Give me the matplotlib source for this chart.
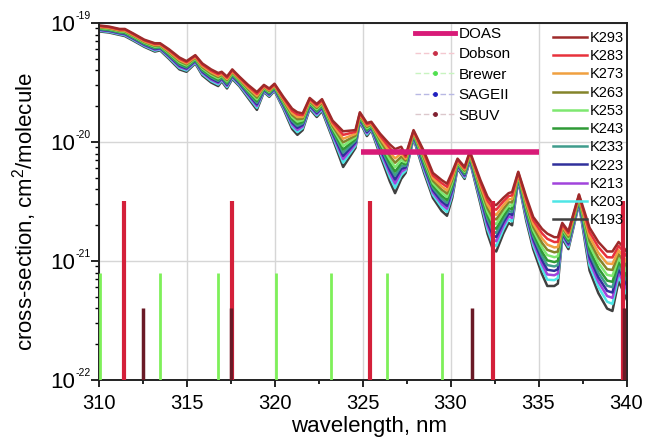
import matplotlib
matplotlib.use("Agg")
import matplotlib.pyplot as plt
import numpy as np
from matplotlib.lines import Line2D
from matplotlib.ticker import MultipleLocator, LogLocator, NullFormatter

plt.rcParams['font.family'] = ['Liberation Sans', 'DejaVu Sans']
plt.rcParams['mathtext.fontset'] = 'custom'
plt.rcParams['mathtext.rm'] = 'Liberation Sans'
plt.rcParams['mathtext.it'] = 'Liberation Sans'
plt.rcParams['mathtext.bf'] = 'Liberation Sans'

# ---- data ----
wavelength = [310.0, 310.6, 311.2, 311.5, 312.0, 312.6, 313.2, 313.5, 314.0, 314.6,
              315.0, 315.5, 315.9, 316.4, 316.8, 317.0, 317.3, 317.6, 318.0, 318.5,
              319.0, 319.4, 319.7, 320.0, 320.5, 321.0, 321.3, 321.6, 322.0, 322.4,
              322.7, 323.3, 323.9, 324.6, 324.85, 325.25, 325.5, 326.0, 326.55, 326.85,
              327.2, 327.45, 327.9, 328.5, 329.0, 329.5, 329.8, 330.1, 330.4, 330.8,
              331.1, 331.7, 332.1, 332.4, 332.6, 333.0, 333.3, 333.5, 333.85, 334.3,
              334.7, 335.2, 335.5, 335.9, 336.1, 336.35, 336.7, 337.3, 337.9, 338.4,
              338.9, 339.2, 339.55, 339.8, 340.0]

# log10 of cross-section for warmest (293 K) and coldest (193 K) curve
log_xs_293K = [-19.02, -19.03, -19.05, -19.05, -19.09, -19.14, -19.17, -19.17, -19.22, -19.29,
               -19.32, -19.27, -19.34, -19.39, -19.42, -19.41, -19.45, -19.39, -19.45, -19.52,
               -19.58, -19.52, -19.55, -19.51, -19.62, -19.72, -19.75, -19.76, -19.63, -19.68,
               -19.64, -19.82, -19.91, -19.90, -19.75, -19.84, -19.83, -19.93, -20.02, -20.06,
               -20.04, -20.11, -19.90, -20.08, -20.26, -20.32, -20.35, -20.25, -20.14, -20.21,
               -20.08, -20.32, -20.46, -20.52, -20.53, -20.47, -20.43, -20.42, -20.25, -20.46,
               -20.63, -20.73, -20.77, -20.80, -20.80, -20.68, -20.75, -20.44, -20.72, -20.84,
               -20.92, -20.92, -20.84, -20.88, -20.92]
log_xs_193K = [-19.07, -19.08, -19.10, -19.11, -19.15, -19.20, -19.24, -19.23, -19.30, -19.39,
               -19.41, -19.34, -19.44, -19.50, -19.53, -19.49, -19.55, -19.47, -19.53, -19.63,
               -19.73, -19.58, -19.62, -19.57, -19.72, -19.89, -19.94, -19.90, -19.72, -19.79,
               -19.74, -19.97, -20.21, -20.05, -19.83, -19.95, -19.90, -20.11, -20.33, -20.43,
               -20.31, -20.26, -19.97, -20.26, -20.47, -20.58, -20.62, -20.47, -20.22, -20.31,
               -20.16, -20.52, -20.77, -20.90, -20.92, -20.77, -20.68, -20.70, -20.32, -20.66,
               -20.90, -21.11, -21.21, -21.21, -21.19, -20.81, -20.90, -20.52, -21.08, -21.27,
               -21.40, -21.42, -21.17, -21.25, -21.32]

temp_labels = ['K293', 'K283', 'K273', 'K263', 'K253', 'K243', 'K233', 'K223', 'K213', 'K203', 'K193']
# relative position of each temperature curve within the band (0 = 293 K, 1 = 193 K), read from spacing
temp_position = [0.0, 0.1, 0.21, 0.31, 0.41, 0.51, 0.6, 0.69, 0.78, 0.88, 1.0]
temp_colors = ['#9e2a2a', '#e8323c', '#f0a040', '#84842a', '#7ee870', '#2f9a36',
               '#3f9c8c', '#30309c', '#a144dc', '#4fe6e6', '#404040']

dobson_wl = [311.45, 317.6, 325.4, 332.4, 339.8]
dobson_xs = 3.2e-21
brewer_wl = [310.1, 313.5, 316.8, 320.1, 323.2, 326.4, 329.5]
brewer_xs = 8.0e-22
sbuv_wl = [312.5, 317.5, 331.2, 339.85]
sbuv_xs = 4.0e-22
doas_range = [324.9, 335.05]
doas_xs = 8.3e-21

y_decades = [-22, -21, -20, -19]

# ---- figure ----
fig = plt.figure(figsize=(6.45, 4.44), dpi=100)
ax = fig.add_axes([98.5 / 645, 1 - 380 / 444, 528 / 645, 357 / 444])

wl = np.array(wavelength)
warm = np.array(log_xs_293K)
cold = np.array(log_xs_193K)
for lab, pos, col in reversed(list(zip(temp_labels, temp_position, temp_colors))):
    ax.plot(wl, 10 ** (warm + pos * (cold - warm)), color=col, lw=1.8, zorder=2,
            solid_joinstyle='round')

ymin = 10.0 ** y_decades[0]
ax.vlines(dobson_wl, ymin, dobson_xs, color='#d4203a', lw=3, zorder=3)
ax.vlines(brewer_wl, ymin, brewer_xs, color='#7ef05a', lw=2, zorder=3)
ax.vlines(sbuv_wl, ymin, sbuv_xs, color='#6a1a26', lw=2.5, zorder=3.5)
ax.plot(doas_range, [doas_xs, doas_xs], color='#d81b78', lw=4, zorder=4, solid_capstyle='butt')

ax.set_yscale('log')
ax.set_xlim(310, 340)
ax.set_ylim(10.0 ** y_decades[0], 10.0 ** y_decades[-1])
ax.xaxis.set_major_locator(MultipleLocator(5))
ax.xaxis.set_minor_locator(MultipleLocator(2.5))
ax.yaxis.set_major_locator(LogLocator(base=10, numticks=10))
ax.yaxis.set_minor_locator(LogLocator(base=10, subs=np.arange(2, 10), numticks=10))
ax.yaxis.set_major_formatter(NullFormatter())
ax.yaxis.set_minor_formatter(NullFormatter())

# y tick labels: "10" with a small superscript exponent
for e in y_decades:
    ax.annotate('10', xy=(0, 10.0 ** e), xycoords=('axes fraction', 'data'),
                xytext=(-23.5, -8), textcoords='offset pixels', ha='right', va='baseline',
                fontsize=16, annotation_clip=False)
    ax.annotate('-%d' % abs(e), xy=(0, 10.0 ** e), xycoords=('axes fraction', 'data'),
                xytext=(-23, 4), textcoords='offset pixels', ha='left', va='baseline',
                fontsize=7.5, annotation_clip=False)

ax.tick_params(axis='x', which='major', direction='out', length=5, width=1.2, labelsize=14.5, pad=5)
ax.tick_params(axis='x', which='minor', direction='out', length=3, width=1.2)
ax.tick_params(axis='y', which='major', direction='out', length=6, width=1.2)
ax.tick_params(axis='y', which='minor', direction='out', length=3, width=1)
for s in ax.spines.values():
    s.set_linewidth(1.4)
    s.set_color('#222222')

ax.grid(True, which='major', color='#d6d6d6', lw=1)
ax.set_axisbelow(True)

ax.set_xlabel('wavelength, nm', fontsize=16)
ax.xaxis.set_label_coords(0.512, -0.102)
ax.set_ylabel('cross-section, cm$^2$/molecule', fontsize=16)
ax.yaxis.set_label_coords(-0.113, 0.473)

# legends
h_left = [
    Line2D([], [], color='#d81b78', lw=3.5),
    Line2D([], [], color='#f4c8d0', lw=1, ls=(0, (4, 2)), marker='o', ms=2.5, mfc='#c83048', mec='#c83048'),
    Line2D([], [], color='#c8f4c0', lw=1, ls=(0, (4, 2)), marker='o', ms=2.5, mfc='#50e050', mec='#50e050'),
    Line2D([], [], color='#b8b8e4', lw=1, ls=(0, (4, 2)), marker='o', ms=2.5, mfc='#2020c0', mec='#2020c0'),
    Line2D([], [], color='#dcc8cc', lw=1, ls=(0, (4, 2)), marker='o', ms=2.5, mfc='#802030', mec='#802030'),
]
labels_left = ['DOAS', 'Dobson', 'Brewer', 'SAGEII', 'SBUV']
leg1 = ax.legend(h_left, labels_left, loc='upper left', bbox_to_anchor=(415 / 645, 1 - 27 / 444),
                 bbox_transform=fig.transFigure, frameon=False, fontsize=11, handlelength=2.6,
                 handletextpad=0.25, labelspacing=0.42, borderpad=0, borderaxespad=0, numpoints=1)
ax.add_artist(leg1)

h_right = [Line2D([], [], color=c, lw=1.8) for c in temp_colors]
leg2 = ax.legend(h_right, temp_labels, loc='upper left', bbox_to_anchor=(553 / 645, 1 - 31 / 444),
                 bbox_transform=fig.transFigure, frameon=False, fontsize=10.5, handlelength=2.35,
                 handletextpad=0.2, labelspacing=0.29, borderpad=0, borderaxespad=0)

fig.savefig('out.png', dpi=100)
